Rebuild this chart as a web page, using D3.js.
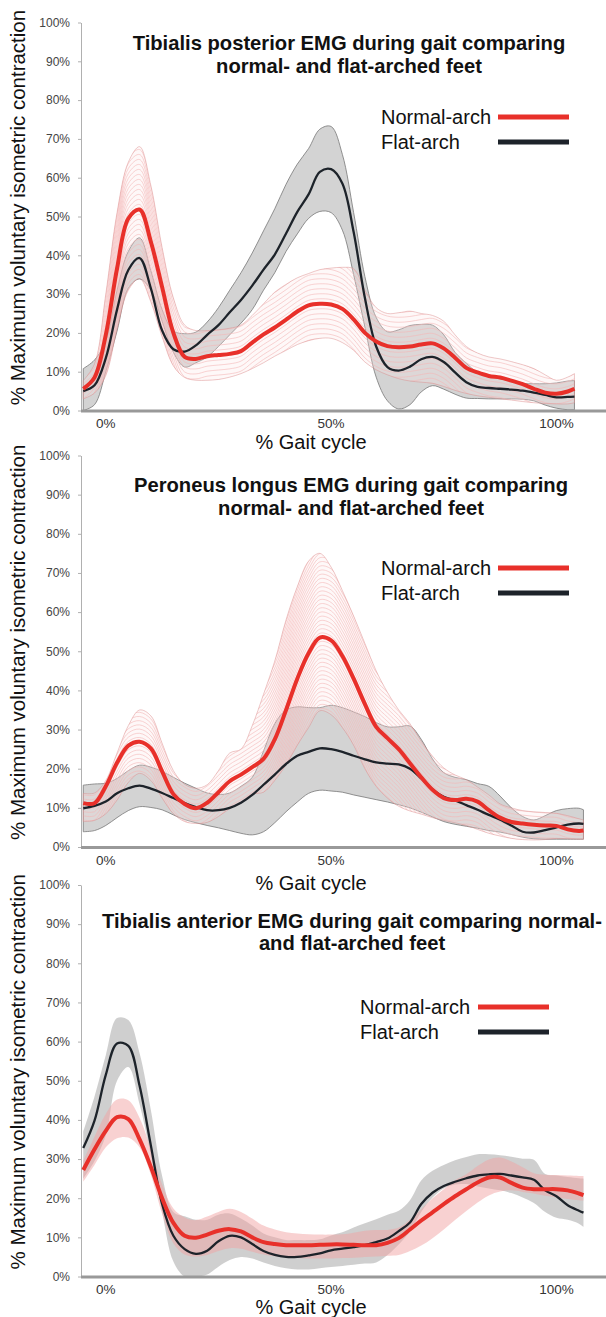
<!DOCTYPE html>
<html>
<head>
<meta charset="utf-8">
<script src="https://cdn.jsdelivr.net/npm/d3@7"></script>
<style>
  body { margin: 0; background: #fff; }
  svg { display: block; font-family: "Liberation Sans", Arial, sans-serif; }
</style>
</head>
<body>
<div id="chart"></div>
<script>
// ---- data (% of max voluntary isometric contraction) ----
const yTicks = [0, 10, 20, 30, 40, 50, 60, 70, 80, 90, 100];
const xTickLabels = [0, 50, 100];
const seriesNames = ["Normal-arch", "Flat-arch"];

// panel 1: tibialis posterior
const gait1 = [-5, -2.5, 0, 2.5, 5, 7.5, 10, 12.5, 15, 17.5, 20, 22.5, 25, 27.5, 30, 32.5, 35, 37.5, 40, 42.5, 45, 47.5, 50,
    52.5, 55, 57.5, 60, 62.5, 65, 67.5, 70, 72.5, 75, 77.5, 80, 82.5, 85, 87.5, 90, 92.5, 95, 97.5, 100, 102.5, 104];
const normal1 = [5.6, 8.5, 19.5, 36.6, 49.5, 51.8, 43.5, 31.8, 20, 13.8, 13.3, 14.0, 14.3, 14.6, 15.3, 17.5, 19.6, 21.4, 23.4, 25.5, 27.1, 27.5, 27.3,
    26.2, 23.5, 20, 17.8, 16.6, 16.3, 16.5, 17.0, 17.3, 16.0, 13.6, 11.0, 9.8, 8.9, 8.5, 7.7, 6.8, 5.6, 4.6, 4.3, 4.9, 5.6];
const normalLo1 = [3.0, 4.5, 9, 21, 31, 34, 28, 19, 11.5, 8.5, 7.8, 7.8, 8.0, 8.6, 9.5, 10.8, 12.3, 14, 15.5, 17, 18, 18.6, 18.6,
    17.5, 15.5, 12.5, 10.5, 9.2, 8.2, 7.6, 7.3, 7.0, 6.2, 5.2, 4.4, 3.8, 3.4, 3.0, 2.7, 2.3, 2.0, 1.8, 1.7, 1.7, 2.0];
const normalHi1 = [7.7, 12, 30, 51, 64, 68, 58, 42, 29, 22, 20.6, 20.6, 20.8, 21.2, 22, 24.5, 27.5, 30.5, 32.5, 34.2, 35.3, 36.3, 36.7,
    36.9, 36.5, 31, 26.5, 25, 25.2, 25.6, 25, 24.5, 23, 19.5, 16.5, 14.8, 13.8, 13.3, 12.6, 11.8, 10.8, 9.2, 7.8, 8.6, 9.5];
const flat1 = [5.0, 6.5, 13.5, 26, 36.2, 39.3, 31.5, 20.6, 15.8, 15.2, 16.8, 19.5, 22.0, 25.3, 28.5, 32.2, 36.3, 40.2, 45.6, 51.2, 55.7, 61.5, 62.2,
    58.5, 46, 29, 16.5, 11.2, 10.3, 11.3, 13.2, 13.8, 12.5, 9.8, 7.3, 6.1, 5.8, 5.6, 5.4, 5.1, 4.6, 4.0, 3.4, 3.5, 3.6];
const flatLo1 = [0, 1.5, 10, 20.5, 31.5, 33.9, 31, 23, 15, 11.2, 12.3, 13.8, 16.5, 19.5, 22.5, 26, 31, 35.5, 41, 45.5, 49.5, 51.3, 51,
    46.5, 35, 21.5, 8.6, 2.5, 0.4, 1.5, 4.8, 6.4, 5.5, 4.2, 3.2, 3.1, 3.0, 3.0, 3.0, 2.9, 2.5, 1.4, 0.6, 0.2, 0.2];
const flatHi1 = [10.8, 13, 18, 31, 41, 44.5, 36, 26, 20.5, 19.8, 20.2, 22.8, 26.5, 31, 35.5, 40.6, 46.3, 52, 58.3, 63.5, 67.5, 72.5, 73.2,
    66, 51, 34.5, 24, 20.3, 20.8, 21.9, 22.2, 22, 19.5, 15, 12.2, 9.8, 8.9, 8.2, 7.5, 7.0, 6.9, 6.9, 7.1, 7.6, 7.7];

// panel 2: peroneus longus
const gait2 = [-5, -2.5, 0, 2.5, 5, 7.5, 10, 12.5, 15, 17.5, 20, 22.5, 25, 27.5, 30, 32.5, 35, 37.5, 40, 42.5, 45, 47.5, 50,
    52.5, 55, 57.5, 60, 62.5, 65, 67.5, 70, 72.5, 75, 77.5, 80, 82.5, 85, 87.5, 90, 92.5, 95, 97.5, 100, 102.5, 105, 106];
const normal2 = [11.2, 11.2, 15.5, 21.5, 25.9, 26.9, 25.2, 19.3, 13.5, 11, 9.9, 11.3, 14.0, 16.8, 18.5, 20.4, 22.5, 27.5, 35, 43, 49.5, 53.5, 52.8,
    48.8, 43, 36.5, 30.7, 27.8, 25, 21.4, 17.8, 14.6, 12.5, 12.0, 12.3, 11.6, 9.4, 7.5, 6.4, 6.0, 5.7, 5.5, 5.4, 4.5, 4.1, 4.2];
const normalLo2 = [6.5, 6.8, 8.5, 12, 16.5, 18.8, 17, 12.5, 8.5, 6.5, 6.0, 6.3, 7.8, 9.8, 11.5, 13.5, 14, 17, 21, 26, 30.5, 34.8, 33.8,
    30.5, 26, 20, 15.5, 12.5, 10.4, 9.2, 8.4, 7.5, 6.8, 6.2, 5.5, 4.5, 3.5, 2.8, 2.2, 1.9, 1.8, 1.9, 2.2, 2.1, 2.0, 2.0];
const normalHi2 = [13.7, 13.8, 17, 24, 31, 35, 33.5, 26.5, 19.5, 16, 15, 15.9, 19.5, 24, 25, 31, 39, 47.5, 58, 66.5, 73, 75, 71.5,
    65.5, 59, 52, 45, 39.5, 35, 31.5, 27, 23.2, 20.2, 18.4, 17.2, 15.3, 13.3, 11, 10.0, 9.3, 9.0, 8.8, 8.6, 8.0, 7.2, 6.9];
const flat2 = [9.9, 10.5, 11.6, 13.7, 15.0, 15.7, 14.9, 13.8, 12.5, 11.2, 10.2, 9.4, 9.4, 10.0, 11.3, 13.3, 15.9, 18.5, 21.2, 23.3, 24.3, 25.2, 25.0,
    24.3, 23.3, 22.4, 21.6, 21.3, 21.1, 20.0, 17.5, 14.7, 12.8, 11.9, 10.7, 9.5, 8.2, 7.0, 5.5, 3.9, 3.7, 4.3, 5.0, 5.7, 6.0, 5.9];
const flatLo2 = [3.9, 4.2, 5.5, 7.5, 9.3, 10.3, 10.1, 9.5, 8.2, 7.0, 6.2, 5.5, 4.9, 4.2, 3.5, 3.1, 3.9, 6.2, 9.0, 11.5, 13.7, 14.5, 14.3,
    14.0, 13.3, 12.7, 12.1, 11.5, 10.8, 10.0, 8.9, 7.7, 6.5, 5.8, 5.3, 4.8, 4.2, 3.8, 3.2, 2.5, 2.1, 2.0, 2.0, 2.0, 2.0, 2.0];
const flatHi2 = [15.8, 16.1, 16.3, 17.5, 19.5, 20.9, 20.4, 19.3, 17.8, 16.3, 15.0, 13.8, 13.4, 13.8, 15.5, 17.8, 24.5, 31.5, 35.0, 35.8, 35.6, 35.6, 36.2,
    35.6, 34.5, 33.3, 31.8, 30.7, 30.7, 30.9, 27.5, 22.5, 19.0, 17.8, 17.2, 16.2, 15.5, 13.0, 10.0, 7.8, 6.9, 8.0, 9.3, 9.8, 9.9, 9.5];

// panel 3: tibialis anterior
const gait3 = gait2;
const normal3 = [27.2, 32.5, 37.2, 40.7, 40.2, 35, 28, 20, 13.7, 10.4, 9.9, 10.7, 11.7, 12.1, 11.5, 10.0, 8.8, 8.3, 8.0, 8.0, 8.0, 8.1, 8.2,
    8.2, 8.1, 8.0, 8.0, 8.6, 9.8, 12, 14.3, 16.4, 18.5, 20.5, 22.3, 24, 25.3, 25.3, 23.9, 22.7, 22.3, 22.3, 22.3, 22.0, 21.2, 20.8];
const normalLo3 = [24.2, 28.5, 33, 35.3, 35.5, 33, 26, 16, 8.5, 5.6, 5.1, 5.5, 6.5, 7.2, 7.1, 6.3, 5.6, 5.2, 5.0, 4.7, 4.6, 4.6, 4.6,
    4.7, 4.8, 5.0, 5.1, 5.3, 5.5, 6.5, 7.9, 9.8, 12.0, 14.4, 16.7, 18.9, 20.7, 21.7, 22.0, 21.6, 21.2, 20.6, 20.2, 19.8, 19.5, 19.4];
const normalHi3 = [29.5, 35.7, 41.5, 45.2, 45, 40.5, 32.6, 23.5, 17.4, 15.1, 14.4, 15.3, 16.5, 17.3, 16.5, 14.8, 13.0, 12.0, 11.3, 11.0, 10.8, 10.7, 10.7,
    10.8, 11.2, 11.7, 11.9, 11.9, 12.5, 14.5, 17.2, 20, 22.3, 24.6, 26.1, 28.2, 29.9, 30.4, 29.4, 27.9, 26.4, 26.0, 25.9, 25.8, 25.7, 25.7];
const flat3 = [32.8, 39.8, 51.5, 59.5, 58.9, 48.7, 33.5, 18.5, 10.4, 7.0, 5.8, 6.6, 9.0, 10.4, 10.0, 8.3, 6.5, 5.5, 5.0, 5.0, 5.4, 5.9, 6.7,
    7.1, 7.5, 8.0, 8.8, 9.7, 11.6, 13.8, 18.5, 21.4, 23.1, 24.2, 25.1, 25.8, 26.1, 26.2, 25.8, 25.3, 24.7, 22, 20.5, 18.2, 16.8, 16.3];
const flatLo3 = [25, 29.5, 36, 50, 53.5, 44, 31, 16.5, 3.8, 0, 0, 0.5, 2.5, 4.2, 5.0, 4.6, 3.6, 2.7, 2.1, 1.8, 1.8, 2.1, 2.4,
    2.7, 3.0, 3.3, 3.6, 5.5, 8.2, 11.5, 16.5, 20.2, 22.5, 23.5, 23.6, 23.0, 22.5, 22.0, 21.3, 20.2, 18.8, 16.5, 15.0, 14.5, 13.5, 12.7];
const flatHi3 = [37, 46, 56.5, 66, 65.5, 57, 42.5, 25.7, 16.5, 15.4, 14.5, 14.5, 15.8, 16.1, 14.8, 13.0, 11.0, 10.0, 9.3, 9.3, 9.3, 9.5, 10.5,
    11.3, 12.5, 13.6, 14.6, 15.8, 16.8, 19.5, 24.5, 27.0, 28.5, 29.7, 30.5, 31.2, 31.2, 31.0, 30.6, 30.1, 29.8, 26.2, 25.8, 25.4, 25.1, 25.0];

// ---- layout ----
const width = 606, height = 1317;
const RED = "#e8302a", DARK = "#1d232a";

const panels = [
    { gait: gait1, normal: [normal1, normalLo1, normalHi1], flat: [flat1, flatLo1, flatHi1],
      top: 22.5, bottom: 410.5, title: ["Tibialis posterior EMG during gait comparing", "normal- and flat-arched feet"],
      titleX: 349, titleY: [50, 73], legendX: 381, legendLine: [498, 569], legendY: [117, 142],
      xTitleY: 449, hatch: 5 },
    { gait: gait2, normal: [normal2, normalLo2, normalHi2], flat: [flat2, flatLo2, flatHi2],
      top: 455.5, bottom: 847, title: ["Peroneus longus EMG during gait comparing", "normal- and flat-arched feet"],
      titleX: 351, titleY: [492, 515], legendX: 381, legendLine: [498, 569], legendY: [568, 593],
      xTitleY: 890, hatch: 4.2 },
    { gait: gait3, normal: [normal3, normalLo3, normalHi3], flat: [flat3, flatLo3, flatHi3],
      top: 885, bottom: 1276.5, title: ["Tibialis anterior EMG during gait comparing normal-", "and flat-arched feet"],
      titleX: 352, titleY: [928, 950], legendX: 360, legendLine: [478, 549], legendY: [1007, 1032],
      xTitleY: 1314, hatch: 0 }
];

let svg = d3.select("#chart")
    .append("svg")
    .attr("width", width)
    .attr("height", height);

svg.append("rect").attr("width", width).attr("height", height).attr("fill", "#fff");

let x = d3.scaleLinear()
    .domain([-5.5, 111])
    .range([81, 606]);

let curve = d3.curveCatmullRom.alpha(0.5);

panels.forEach(function(p, idx) { drawPanel(p, idx); });

function drawPanel(p, idx) {
    let y = d3.scaleLinear().domain([0, 100]).range([p.bottom, p.top]);
    let g = svg.append("g");

    let band = function(lo, hi) {
        return d3.area()
            .x(function(d, i) { return x(p.gait[i]); })
            .y0(function(d, i) { return y(lo[i]); })
            .y1(function(d, i) { return y(hi[i]); })
            .curve(curve)(p.gait);
    };
    let meanLine = function(vals, shift) {
        return d3.line()
            .x(function(d, i) { return x(p.gait[i]); })
            .y(function(d, i) { return y(vals[i]) + shift; })
            .curve(curve)(p.gait);
    };

    // y axis
    let yAxis = g.append("g")
        .attr("transform", `translate(${x(-5.5)}, 0)`)
        .call(d3.axisLeft(y).tickValues(yTicks).tickFormat(function(d) { return d + "%"; })
            .tickSize(3).tickSizeOuter(0).tickPadding(8));
    yAxis.select(".domain").attr("stroke", "#b0b0b0");
    yAxis.selectAll(".tick line").attr("stroke", "#b0b0b0");
    yAxis.selectAll(".tick text")
        .attr("fill", "#444")
        .style("font-size", "12px")
        .style("font-family", "'Liberation Sans', Arial, sans-serif");

    // flat-arch band (grey)
    g.append("path")
        .attr("d", band(p.flat[1], p.flat[2]))
        .attr("fill", "#b5b5b5")
        .attr("fill-opacity", p.hatch ? 0.6 : 0.65)
        .attr("stroke", p.hatch ? "#777" : "none")
        .attr("stroke-width", 0.8);

    // normal-arch band (pink)
    if (p.hatch) {
        let clipId = "clip" + idx;
        g.append("clipPath").attr("id", clipId)
            .append("path").attr("d", band(p.normal[1], p.normal[2]));

        let maxDev = d3.max(p.gait, function(d, i) {
            return Math.max(y(p.normal[1][i]) - y(p.normal[0][i]), y(p.normal[0][i]) - y(p.normal[2][i]));
        });
        let n = Math.ceil(maxDev / p.hatch) + 3;

        g.append("g")
            .attr("clip-path", `url(#${clipId})`)
            .selectAll("path")
            .data(d3.range(-n, n + 1))
            .enter()
            .append("path")
            .attr("d", function(k) { return meanLine(p.normal[0], k * p.hatch); })
            .attr("fill", "none")
            .attr("stroke", "#f2a8a8")
            .attr("stroke-opacity", 0.6)
            .attr("stroke-width", 1);

        g.append("path")
            .attr("d", band(p.normal[1], p.normal[2]))
            .attr("fill", "#fbe4e4")
            .attr("fill-opacity", 0.25)
            .attr("stroke", "#dc8c8c")
            .attr("stroke-opacity", 0.6)
            .attr("stroke-width", 0.8);
    } else {
        g.append("path")
            .attr("d", band(p.normal[1], p.normal[2]))
            .attr("fill", "#f2a3a3")
            .attr("fill-opacity", 0.5);
    }

    // mean lines
    g.append("path")
        .attr("d", meanLine(p.flat[0], 0))
        .attr("fill", "none")
        .attr("stroke", DARK)
        .attr("stroke-width", 2.3);
    g.append("path")
        .attr("d", meanLine(p.normal[0], 0))
        .attr("fill", "none")
        .attr("stroke", RED)
        .attr("stroke-width", 4);

    // x baseline
    g.append("line")
        .attr("x1", x(-5.5)).attr("x2", x(111))
        .attr("y1", y(0) + 0.5).attr("y2", y(0) + 0.5)
        .attr("stroke", "#999")
        .attr("stroke-width", 3);

    g.selectAll(".xlab")
        .data(xTickLabels)
        .enter()
        .append("text")
        .attr("class", "xlab")
        .attr("x", function(d) { return x(d); })
        .attr("y", y(0) + 17.5)
        .style("text-anchor", "middle")
        .style("font-size", "13.5px")
        .attr("fill", "#333")
        .text(function(d) { return d + "%"; });

    g.append("text")
        .attr("x", 311)
        .attr("y", p.xTitleY)
        .style("text-anchor", "middle")
        .style("font-size", "20px")
        .attr("fill", "#111")
        .text("% Gait cycle");

    g.append("text")
        .attr("transform", `translate(25, ${(p.top + p.bottom) / 2 - 9}) rotate(-90)`)
        .style("text-anchor", "middle")
        .style("font-size", "20.5px")
        .attr("fill", "#111")
        .text("% Maximum voluntary isometric contraction");

    // title
    g.selectAll(".title")
        .data(p.title)
        .enter()
        .append("text")
        .attr("class", "title")
        .attr("x", p.titleX)
        .attr("y", function(d, i) { return p.titleY[i]; })
        .style("text-anchor", "middle")
        .style("font-size", "20.2px")
        .style("font-weight", "bold")
        .attr("fill", "#111")
        .text(function(d) { return d; });

    // legend
    let colors = [RED, DARK];
    seriesNames.forEach(function(name, i) {
        g.append("text")
            .attr("x", p.legendX)
            .attr("y", p.legendY[i] + 7)
            .style("font-size", "20px")
            .attr("fill", "#111")
            .text(name);
        g.append("line")
            .attr("x1", p.legendLine[0]).attr("x2", p.legendLine[1])
            .attr("y1", p.legendY[i]).attr("y2", p.legendY[i])
            .attr("stroke", colors[i])
            .attr("stroke-width", 5);
    });
}
</script>
</body>
</html>
